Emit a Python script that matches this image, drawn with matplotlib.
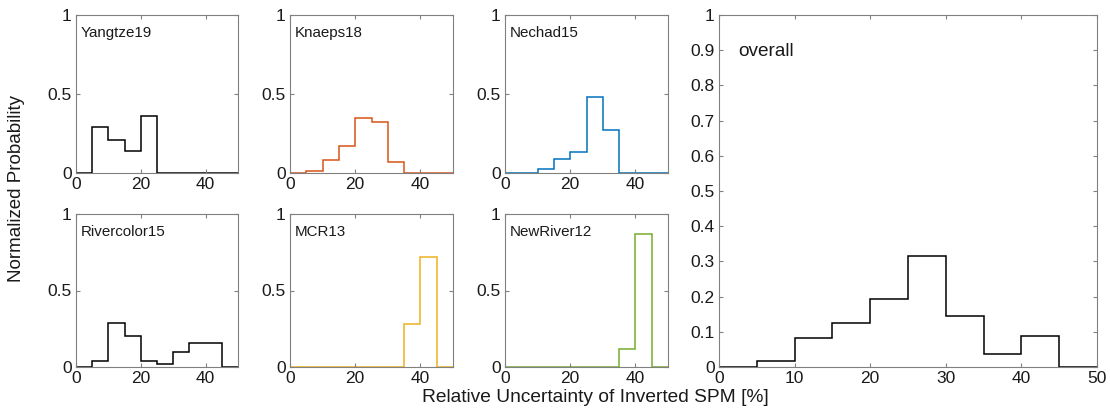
import matplotlib.pyplot as plt
import numpy as np

plt.rcParams['font.family'] = ['Liberation Sans', 'DejaVu Sans']

# bin edges of relative uncertainty [%]
edges = [0, 5, 10, 15, 20, 25, 30, 35, 40, 45, 50]

names = ['Yangtze19', 'Knaeps18', 'Nechad15', 'Rivercolor15', 'MCR13', 'NewRiver12']
yangtze19 = [0, 0.29, 0.21, 0.14, 0.36, 0, 0, 0, 0, 0]
knaeps18 = [0, 0.01, 0.08, 0.17, 0.35, 0.32, 0.07, 0, 0, 0]
nechad15 = [0, 0, 0.025, 0.09, 0.13, 0.48, 0.27, 0, 0, 0]
rivercolor15 = [0, 0.04, 0.29, 0.20, 0.04, 0.02, 0.10, 0.157, 0.157, 0]
mcr13 = [0, 0, 0, 0, 0, 0, 0, 0.28, 0.72, 0]
newriver12 = [0, 0, 0, 0, 0, 0, 0, 0.12, 0.87, 0]
overall = [0, 0.017, 0.083, 0.125, 0.192, 0.315, 0.145, 0.037, 0.088, 0]

series = [yangtze19, knaeps18, nechad15, rivercolor15, mcr13, newriver12]
colors = ['#000000', '#D95319', '#0072BD', '#000000', '#EDB120', '#77AC30']

W, H = 1110, 412
fig = plt.figure(figsize=(W / 100, H / 100), dpi=100)

def style(ax):
    for s in ax.spines.values():
        s.set_color('#808080')
        s.set_linewidth(0.8)
    ax.tick_params(direction='in', top=True, right=True, length=3,
                   color='#808080', labelsize=12.5, labelcolor='#1a1a1a', pad=3)

# pixel boxes (left, top, right, bottom)
small_x = [(76, 238), (290, 453), (505, 668)]
small_y = [(15, 173), (214, 367)]

for i, (name, vals, c) in enumerate(zip(names, series, colors)):
    r, col = divmod(i, 3)
    x0, x1 = small_x[col]
    y0, y1 = small_y[r]
    ax = fig.add_axes([x0 / W, 1 - y1 / H, (x1 - x0) / W, (y1 - y0) / H])
    ax.stairs(vals, edges, color=c, linewidth=1.1)
    ax.set_xlim(0, 50)
    ax.set_ylim(0, 1)
    ax.set_xticks([0, 20, 40])
    ax.set_yticks([0, 0.5, 1])
    ax.set_yticklabels(['0', '0.5', '1'])
    ax.text(0.03, 0.93, name, transform=ax.transAxes, fontsize=10.9,
            va='top', ha='left', color='#1a1a1a')
    style(ax)

x0, x1, y0, y1 = 719, 1097, 15, 367
ax = fig.add_axes([x0 / W, 1 - y1 / H, (x1 - x0) / W, (y1 - y0) / H])
ax.stairs(overall, edges, color='#000000', linewidth=1.1)
ax.set_xlim(0, 50)
ax.set_ylim(0, 1)
ax.set_xticks(np.arange(0, 51, 10))
ax.set_yticks(np.arange(0, 1.01, 0.1))
ax.set_yticklabels(['0'] + ['%.1f' % v for v in np.arange(0.1, 0.95, 0.1)] + ['1'])
ax.text(0.05, 0.92, 'overall', transform=ax.transAxes, fontsize=13.7,
        va='top', ha='left', color='#1a1a1a')
style(ax)

fig.text(17 / W, 1 - 188 / H, 'Normalized Probability', rotation=90,
         ha='center', va='center', fontsize=13.5, color='#1a1a1a')
fig.text(595 / W, 1 - 398 / H, 'Relative Uncertainty of Inverted SPM [%]',
         ha='center', va='center', fontsize=13.8, color='#1a1a1a')

fig.savefig('out.png', dpi=100, facecolor='white')
